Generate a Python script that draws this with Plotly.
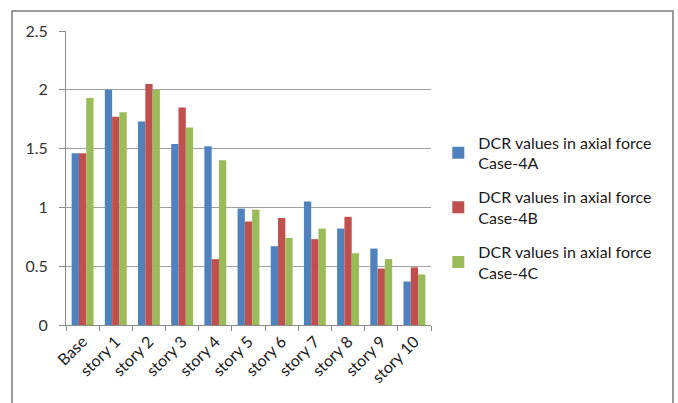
import plotly.graph_objects as go

# categories and series
stories = ["Base", "story 1", "story 2", "story 3", "story 4", "story 5",
           "story 6", "story 7", "story 8", "story 9", "story 10"]
case_4a = [1.46, 2.00, 1.73, 1.54, 1.52, 0.99, 0.67, 1.05, 0.82, 0.65, 0.37]
case_4b = [1.46, 1.77, 2.05, 1.85, 0.56, 0.88, 0.91, 0.73, 0.92, 0.48, 0.49]
case_4c = [1.93, 1.81, 2.00, 1.68, 1.40, 0.98, 0.74, 0.82, 0.61, 0.56, 0.43]

names = ["DCR values in axial force<br>Case-4A",
         "DCR values in axial force<br>Case-4B",
         "DCR values in axial force<br>Case-4C"]
colors = ["#4f81bd", "#c0504d", "#9bbb59"]

FONT = "Lato, Open Sans, sans-serif"

fig = go.Figure()
for i, (name, vals, col) in enumerate(zip(names, [case_4a, case_4b, case_4c], colors)):
	fig.add_trace(go.Bar(
		x=stories, y=vals, name=name, legendgroup=f"g{i}",
		marker=dict(color=col, line=dict(width=0)),
	))

fig.update_layout(
	width=678, height=403,
	margin=dict(l=66, r=247, t=31, b=78, autoexpand=False),
	paper_bgcolor="white", plot_bgcolor="white",
	barmode="group", bargap=0.34, bargroupgap=0,
	font=dict(family=FONT, size=14, color="#333333"),
	legend=dict(
		x=1.02, y=0.40, xanchor="left", yanchor="middle",
		font=dict(size=16, color="#1a1a1a"),
		tracegroupgap=10, itemwidth=30, traceorder="grouped",
	),
	showlegend=True,
)
fig.update_yaxes(
	range=[0, 2.5], dtick=0.5, automargin=False,
	showgrid=True, gridcolor="#a0a0a0", gridwidth=1,
	showline=True, linecolor="#8a8a8a", linewidth=1,
	ticks="outside", ticklen=6, tickcolor="#8a8a8a", ticklabelstandoff=8,
	zeroline=False, tickfont=dict(size=16, color="#333333"),
)
fig.update_xaxes(
	automargin=False,
	showline=True, linecolor="#8a8a8a", linewidth=1,
	ticks="outside", ticklen=5, tickcolor="#8a8a8a", tickson="boundaries",
	tickangle=-45, tickfont=dict(size=16, color="#1a1a1a"),
)
# outer chart frame (bottom edge runs off the page, as in the source)
fig.add_shape(type="rect", xref="paper", yref="paper",
	x0=-0.148, x1=1.663, y0=-0.30, y1=1.068,
	line=dict(color="#7a7a7a", width=1.5))

# drop the browser's default body margin so the figure sits at the page origin
fig.write_html("out.html", config={"displayModeBar": False},
	post_script="document.body.style.margin='0';")
